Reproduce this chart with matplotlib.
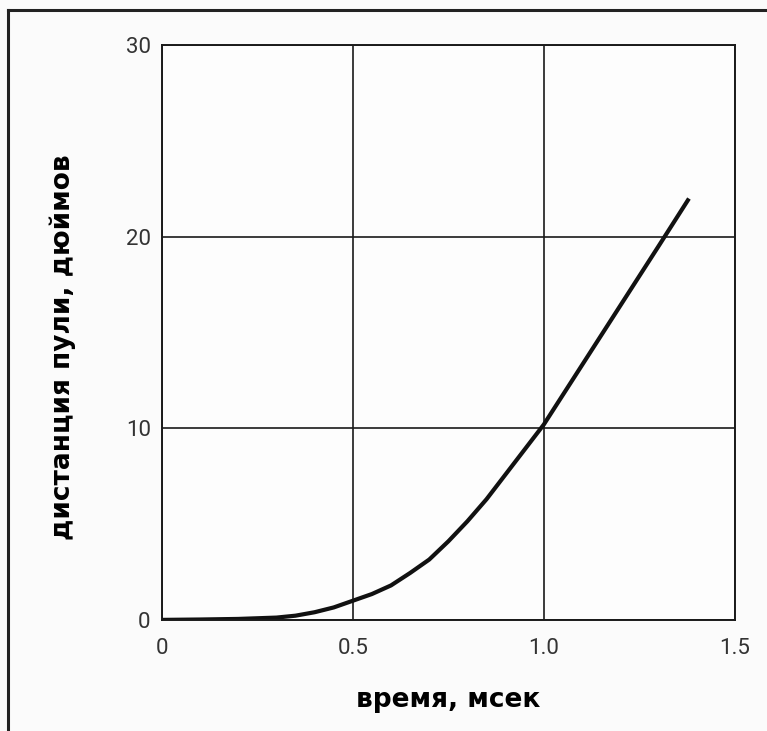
import matplotlib.pyplot as plt
from matplotlib.lines import Line2D

plt.rcParams['font.family'] = ['DejaVu Sans']

# время полёта пули, мсек, и пройденная дистанция, дюймов
time_ms = [0, 0.1, 0.2, 0.3, 0.35, 0.4, 0.45, 0.5, 0.55, 0.6, 0.65, 0.7, 0.75, 0.8,
           0.85, 0.9, 0.95, 1.0, 1.1, 1.2, 1.3, 1.38]
distance_in = [0, 0.02, 0.05, 0.12, 0.22, 0.4, 0.65, 1.0, 1.35, 1.8, 2.45, 3.15, 4.1, 5.15,
               6.3, 7.6, 8.9, 10.2, 13.3, 16.4, 19.5, 22.0]

x_ticks = [0, 0.5, 1.0, 1.5]
x_tick_labels = ['0', '0.5', '1.0', '1.5']
y_ticks = [0, 10, 20, 30]
y_tick_labels = ['0', '10', '20', '30']

fig = plt.figure(figsize=(7.67, 7.31), dpi=100, facecolor='#fbfbfb')
ax = fig.add_axes([0.211, 0.152, 0.747, 0.786])
ax.set_facecolor('#fdfdfd')

ax.plot(time_ms, distance_in, color='#111111', linewidth=3.0,
        solid_capstyle='butt', solid_joinstyle='round')

ax.set_xlim(0, 1.5)
ax.set_ylim(0, 30)
ax.set_xticks(x_ticks)
ax.set_xticklabels(x_tick_labels)
ax.set_yticks(y_ticks)
ax.set_yticklabels(y_tick_labels)
ax.tick_params(length=0, labelsize=16, labelcolor='#333333')
ax.tick_params(axis='x', pad=13)
ax.tick_params(axis='y', pad=8)
for lab in ax.get_xticklabels() + ax.get_yticklabels():
    lab.set_fontfamily(['Roboto', 'DejaVu Sans'])
    lab.set_fontweight('normal')

ax.grid(True, color='#1a1a1a', linewidth=1.2)
for s in ax.spines.values():
    s.set_color('#1a1a1a')
    s.set_linewidth(1.4)

ax.set_xlabel('время, мсек', fontsize=19, fontweight='bold', labelpad=20)
ax.set_ylabel('дистанция пули, дюймов', fontsize=19, fontweight='bold', labelpad=36)
ax.yaxis.label.set_y(0.475)

# рамка вокруг рисунка
fig.add_artist(Line2D([8 / 767, 8 / 767], [0, 1 - 10 / 731], transform=fig.transFigure,
                      color='#222222', linewidth=2.2))
fig.add_artist(Line2D([8 / 767, 1], [1 - 10 / 731, 1 - 10 / 731], transform=fig.transFigure,
                      color='#222222', linewidth=2.2))

fig.savefig('out.png', dpi=100, facecolor=fig.get_facecolor())
